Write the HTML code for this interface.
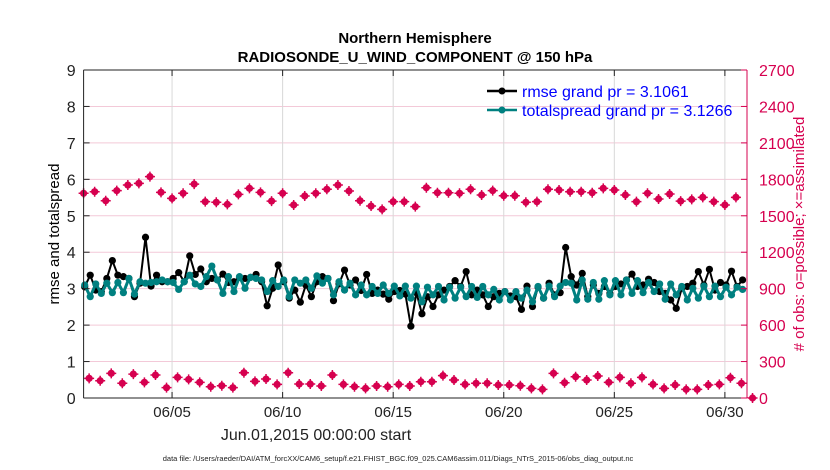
<!DOCTYPE html>
<html><head><meta charset="utf-8"><style>
body{margin:0;background:#fff;}
svg{display:block;font-family:"Liberation Sans",sans-serif;}
</style></head><body>
<svg id="chart" width="830" height="470" viewBox="0 0 830 470">
<text x="415" y="43" text-anchor="middle" font-size="15" font-weight="bold">Northern Hemisphere</text>
<text x="415" y="62" text-anchor="middle" font-size="15" font-weight="bold">RADIOSONDE_U_WIND_COMPONENT @ 150 hPa</text>
<g id="grid"></g>
<g id="marks"></g>
<g id="axes"></g>
<text x="59" y="234" transform="rotate(-90 59 234)" text-anchor="middle" font-size="15">rmse and totalspread</text>
<text x="804" y="234" transform="rotate(-90 804 234)" text-anchor="middle" font-size="15" fill="#d6004f"># of obs: o=possible; ×=assimilated</text>
<text x="316" y="440" text-anchor="middle" font-size="16" fill="#222">Jun.01,2015 00:00:00 start</text>
<text x="398" y="461" text-anchor="middle" font-size="7.5" fill="#222">data file: /Users/raeder/DAI/ATM_forcXX/CAM6_setup/f.e21.FHIST_BGC.f09_025.CAM6assim.011/Diags_NTrS_2015-06/obs_diag_output.nc</text>
<g>
<line x1="487" y1="91" x2="517" y2="91" stroke="#000" stroke-width="2.5"/>
<circle cx="502" cy="91" r="3.5" fill="#000"/>
<text x="522" y="97" font-size="16" fill="#0000ff">rmse grand pr = 3.1061</text>
<line x1="487" y1="110" x2="517" y2="110" stroke="#008080" stroke-width="2.5"/>
<circle cx="502" cy="110" r="3.5" fill="#008080"/>
<text x="522" y="116" font-size="16" fill="#0000ff">totalspread grand pr = 3.1266</text>
</g>
</svg>
<script>
const leftTicks=[0,1,2,3,4,5,6,7,8,9];
const rightTicks=[0,300,600,900,1200,1500,1800,2100,2400,2700];
const dateTicks=[4,9,14,19,24,29];
const dateLabels=["06/05","06/10","06/15","06/20","06/25","06/30"];
const rmse=[3.05,3.37,2.96,2.92,3.28,3.77,3.37,3.33,3.28,2.78,3.15,4.41,3.07,3.37,3.19,3.19,3.28,3.44,3.19,3.9,3.39,3.54,3.19,3.28,3.24,3.40,3.17,3.19,3.31,3.28,3.31,3.39,3.19,2.53,3.01,3.65,3.19,2.74,2.96,2.63,3.10,2.78,
3.19,3.33,3.28,2.67,3.13,3.51,3.10,3.24,2.95,3.39,2.87,2.96,2.85,2.71,2.92,2.95,2.85,1.97,2.89,2.31,2.78,2.51,2.83,2.96,3.06,3.22,3.06,3.47,2.83,2.96,2.83,2.51,2.78,2.87,2.92,2.80,2.78,2.43,3.07,
2.51,3.04,2.74,3.15,2.83,2.89,4.13,3.33,3.10,3.42,2.78,3.10,2.87,3.06,2.87,3.06,3.13,3.24,3.40,3.06,3.10,3.26,3.17,2.92,2.87,2.69,2.46,3.01,3.06,3.15,3.47,3.10,3.53,2.96,3.17,3.10,3.48,3.06,3.24];
const spread=[3.10,2.78,3.13,2.87,3.15,2.89,3.17,2.89,3.28,2.85,3.19,3.15,3.17,3.19,3.24,3.19,3.17,2.98,3.19,3.37,3.13,3.06,3.33,3.62,3.24,2.87,3.33,2.92,3.33,3.01,3.31,3.28,3.24,2.92,3.22,3.06,3.24,2.78,3.24,3.15,3.24,3.01,
3.35,3.15,3.28,2.83,3.19,2.96,3.15,2.83,3.10,2.83,3.06,2.87,3.10,2.87,3.07,2.80,3.07,2.74,3.07,2.64,3.04,2.83,3.06,2.69,3.04,2.74,3.04,2.78,3.06,2.76,3.06,2.83,2.98,2.69,2.92,2.69,2.92,2.74,2.96,
2.64,3.06,2.74,3.07,2.78,3.07,3.17,3.15,2.69,3.24,2.71,3.17,2.71,3.22,2.83,3.22,2.83,3.24,2.87,3.22,2.89,3.17,2.92,3.13,2.71,3.13,2.83,3.06,2.69,3.01,2.74,3.07,2.78,3.07,2.78,3.04,2.83,3.04,2.98];
const possible=[1685,1698,1624,1707,1753,1767,1822,1693,1643,1685,1761,1616,1611,1594,1676,1726,1693,1621,1685,1589,1663,1685,
1718,1753,1704,1624,1580,1553,1616,1616,1575,1731,1690,1690,1685,1718,1671,1707,1665,1665,1611,1616,
1718,1712,1698,1698,1690,1726,1712,1671,1616,1685,1638,1679,1621,1635,1652,1616,1589,1652];
const assimilated=[162,142,203,121,197,129,189,85,170,153,129,93,101,85,208,137,156,112,208,115,115,
99,189,112,93,79,99,93,112,99,134,134,184,148,112,121,121,107,107,101,79,
71,203,126,175,148,181,129,170,121,170,112,79,107,71,71,107,112,167,121,0];

const X0=83.6,X1=747,Y0=398,Y1=70,TMAX=30;
const xs=t=>X0+(X1-X0)*t/TMAX;
const yl=v=>Y0-(Y0-Y1)*v/9;
const yr=v=>Y0-(Y0-Y1)*v/2700;
const NS="http://www.w3.org/2000/svg";
function mk(tag,attrs,parent){const e=document.createElementNS(NS,tag);for(const k in attrs)e.setAttribute(k,attrs[k]);parent.appendChild(e);return e;}
const grid=document.getElementById('grid'),marks=document.getElementById('marks'),axes=document.getElementById('axes');
rightTicks.forEach(v=>{const l=mk('line',{x1:X0,x2:X1,y1:yr(v),y2:yr(v),stroke:'#f3c9d8','stroke-width':1},grid);

});
dateTicks.forEach((d,i)=>{const l=mk('line',{x1:xs(d),x2:xs(d),y1:Y1,y2:Y0,stroke:'#d8d8d8','stroke-width':1},grid);


const tk=mk('line',{x1:xs(d),x2:xs(d),y1:Y0,y2:Y0-6,stroke:'#222'},axes);


const tk2=mk('line',{x1:xs(d),x2:xs(d),y1:Y1,y2:Y1+6,stroke:'#222'},axes);


const tx=mk('text',{x:xs(d),y:Y0+19,'text-anchor':'middle','font-size':15,fill:'#222'},axes);tx.textContent=dateLabels[i];

});
const topLine=mk('line',{x1:X0,x2:X1,y1:Y1,y2:Y1,stroke:'#222'},axes);


const botLine=mk('line',{x1:X0,x2:X1,y1:Y0,y2:Y0,stroke:'#222'},axes);


const leftLine=mk('line',{x1:X0,x2:X0,y1:Y1,y2:Y0,stroke:'#222'},axes);


const rightLine=mk('line',{x1:X1,x2:X1,y1:Y1,y2:Y0,stroke:'#d6004f'},axes);


leftTicks.forEach(v=>{const t=mk('line',{x1:X0,x2:X0+6,y1:yl(v),y2:yl(v),stroke:'#222'},axes);


const tx=mk('text',{x:X0-8,y:yl(v)+6,'text-anchor':'end','font-size':16,fill:'#222'},axes);tx.textContent=v;

});
rightTicks.forEach(v=>{const t=mk('line',{x1:X1-6,x2:X1,y1:yr(v),y2:yr(v),stroke:'#d6004f'},axes);


const tx=mk('text',{x:X1+12,y:yr(v)+6,'font-size':16,fill:'#d6004f'},axes);tx.textContent=v;

});
function pink(t,v,name){const g=mk('g',{},marks);


mk('circle',{cx:xs(t),cy:yr(v),r:3.6,fill:'#d6004f'},g);
mk('path',{d:`M${xs(t)-5} ${yr(v)}h10M${xs(t)} ${yr(v)-5}v10`,stroke:'#d6004f','stroke-width':1.5},g);}
possible.forEach((v,i)=>pink(0.5*i,v,'possible-point'));
assimilated.forEach((v,i)=>pink(0.25+0.5*i,v,'assimilated-point'));
function series(arr,color,w,name){const pts=arr.map((v,i)=>[xs(0.05+0.25*i),yl(v)]);
const p=mk('polyline',{points:pts.map(p=>p.join(',')).join(' '),fill:'none',stroke:color,'stroke-width':w,'stroke-linejoin':'round'},marks);


pts.forEach(q=>{const c=mk('circle',{cx:q[0],cy:q[1],r:3.6,fill:color},marks);

});}
series(rmse,'#000',2,'rmse');
series(spread,'#008080',3,'totalspread');
</script>
</body></html>
